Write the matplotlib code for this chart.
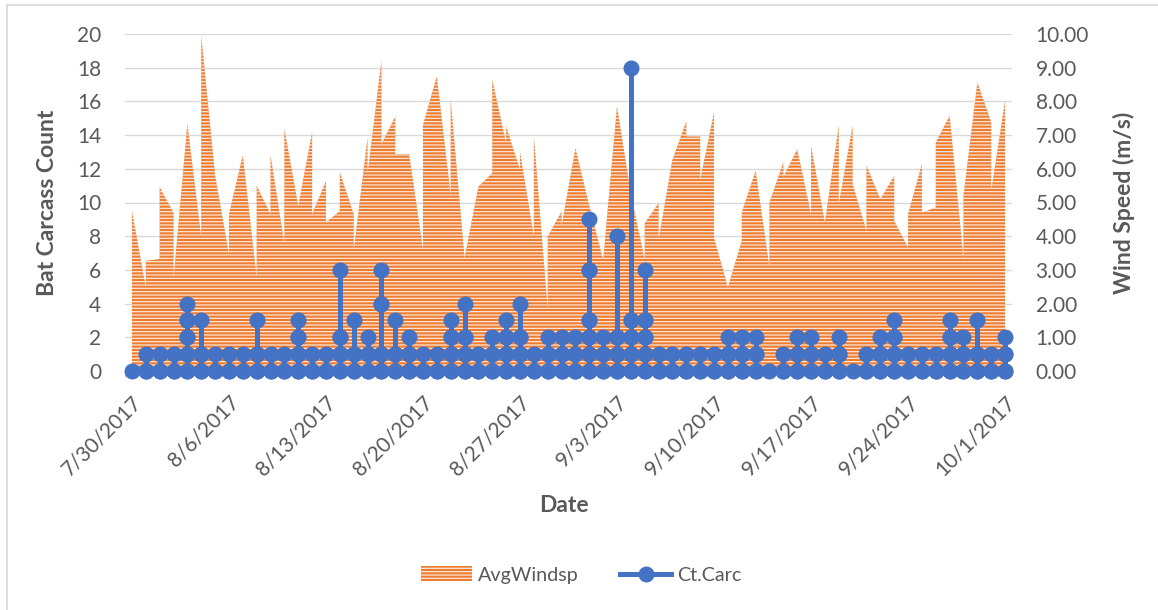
import matplotlib
matplotlib.use("Agg")
import matplotlib.pyplot as plt
from matplotlib.lines import Line2D

# ---- data (day 0 = 7/30/2017) ----
wind_day = [0, 1, 1, 2, 2, 3, 3, 4, 5, 5, 6, 7, 7, 8, 9, 9, 10, 10, 11, 11, 12,
            13, 13, 14, 14, 15, 15, 16, 16, 17, 17, 18, 18, 19, 19, 20, 21, 21,
            22, 23, 23, 24, 25, 26, 26, 27, 27, 28, 28, 29, 29, 30, 30, 31, 31,
            32, 33, 34, 35, 36, 37, 37, 38, 38, 39, 40, 40, 41, 41, 42, 42, 43,
            44, 44, 45, 46, 46, 47, 47, 48, 49, 49, 50, 51, 51, 52, 52, 53, 53,
            54, 55, 55, 56, 56, 57, 57, 58, 58, 59, 60, 60, 61, 62, 62, 63]
wind_ms = [4.75, 2.48, 3.27, 3.32, 5.45, 4.70, 2.72, 7.33, 3.96, 9.95, 5.80,
           3.47, 4.65, 6.40, 2.77, 5.50, 4.65, 6.40, 3.76, 7.18, 4.90,
           7.08, 4.65, 5.64, 4.40, 4.75, 5.90, 4.65, 3.56, 6.93, 5.85, 9.20, 6.73,
           7.55, 6.44, 6.44, 3.60, 7.30,
           8.74, 5.20, 8.05, 3.35, 5.47, 5.87, 8.64, 6.76, 7.26, 5.97, 6.50,
           3.99, 6.96, 1.81, 3.99, 4.73, 4.30,
           6.61, 4.90, 3.30, 7.85, 5.25, 3.30, 4.39, 4.98, 3.89, 6.27, 7.41, 6.96,
           6.96, 5.67, 7.67, 3.95, 2.48,
           3.85, 4.70, 5.94, 3.07, 5.00, 6.19, 5.75, 6.58, 4.65, 6.68, 4.40,
           7.28, 4.95, 7.28, 5.55, 4.16, 6.09,
           5.10, 5.79, 4.45, 3.66, 4.65, 6.14, 4.70, 4.85, 6.78, 7.57, 3.32, 5.20,
           8.56, 7.38, 5.35, 8.02]

# carcass counts recorded on each day (one list per day)
carc_by_day = [
    [0], [0, 1], [0, 1], [0, 1], [0, 1, 2, 3, 4], [0, 1, 3], [0, 1], [0, 1],
    [0, 1], [0, 1, 3], [0, 1], [0, 1], [0, 1, 2, 3], [0, 1], [0, 1],
    [0, 1, 2, 6], [0, 1, 3], [0, 1, 2], [0, 1, 4, 6], [0, 1, 3], [0, 1, 2],
    [0, 1], [0, 1], [0, 1, 2, 3], [0, 1, 2, 4], [0, 1], [0, 1, 2],
    [0, 1, 2, 3], [0, 1, 2, 4], [0, 1], [0, 1, 2], [0, 1, 2], [0, 1, 2],
    [0, 1, 2, 3, 6, 9], [0, 1, 2], [0, 1, 2, 8], [0, 1, 2, 3, 18],
    [0, 1, 2, 3, 6], [0, 1], [0, 1], [0, 1], [0, 1], [0, 1], [0, 1, 2],
    [0, 1, 2], [0, 1, 2], [0], [0, 1], [0, 1, 2], [0, 1, 2], [0, 1],
    [0, 1, 2], [0], [0, 1], [0, 1, 2], [0, 1, 2, 3], [0, 1], [0, 1], [0, 1],
    [0, 1, 2, 3], [0, 1, 2], [0, 1, 3], [0, 1], [0, 1, 2],
]

tick_days = [0, 7, 14, 21, 28, 35, 42, 49, 56, 63]
tick_labels = ['7/30/2017', '8/6/2017', '8/13/2017', '8/20/2017', '8/27/2017',
               '9/3/2017', '9/10/2017', '9/17/2017', '9/24/2017', '10/1/2017']

# ---- style ----
plt.rcParams['font.family'] = ['Lato', 'DejaVu Sans']
plt.rcParams['hatch.linewidth'] = 0.9
txt = '#595959'
orange = '#ED7D31'
blue = '#4472C4'
fs = 15          # tick labels
fs_title = 16.5  # axis titles

W, H = 1158, 610
fig = plt.figure(figsize=(W / 100, H / 100), dpi=100)
L, R, T, B = 125, 1012, 34, 371
ax2 = fig.add_axes([L / W, 1 - B / H, (R - L) / W, (B - T) / H])
ax = ax2.twinx()
ax.yaxis.tick_left()
ax.yaxis.set_label_position('left')
ax2.yaxis.tick_right()
ax2.yaxis.set_label_position('right')
ax.set_zorder(ax2.get_zorder() + 1)
ax.patch.set_visible(False)

# wind speed area (right axis)
area = ax2.fill_between(wind_day, wind_ms, 0, facecolor=orange,
                        edgecolor='#FCE6D8', hatch='-----', linewidth=0,
                        label='AvgWindsp')
ax2.set_ylim(0, 10)
ax2.set_yticks(range(0, 11))
ax2.set_yticklabels([f'{v:.2f}' for v in range(0, 11)])
ax2.grid(axis='y', color='#D9D9D9', lw=1.0)
ax2.set_axisbelow(True)

# carcass counts (left axis): up the stem and back down each day
px, py = [], []
for d, vals in enumerate(carc_by_day):
    seq = sorted(vals)
    seq = seq + seq[-2::-1]
    px += [d] * len(seq)
    py += seq
ax.plot(px, py, color=blue, lw=3.6, marker='o', ms=10.5, mfc=blue,
        mec=blue, clip_on=False, solid_joinstyle='round', zorder=3)
ax.set_ylim(0, 20)
ax.set_yticks(range(0, 21, 2))

ax.set_xlim(-0.5, 63.5)
ax2.set_xlim(-0.5, 63.5)
ax2.set_xticks(tick_days)
ax2.set_xticklabels(tick_labels, rotation=45, ha='right',
                    rotation_mode='anchor')
ax2.set_xticks([d - 0.5 for d in tick_days], minor=True)
ax2.tick_params(axis='x', which='major', length=0, pad=15, labelsize=fs,
                labelcolor=txt)
ax2.tick_params(axis='x', which='minor', length=4, color='#BFBFBF')
ax.tick_params(axis='x', bottom=False, labelbottom=False)
ax.tick_params(axis='y', length=0, pad=17, labelsize=fs, labelcolor=txt)
ax2.tick_params(axis='y', length=0, pad=17, labelsize=fs, labelcolor=txt)

for a in (ax, ax2):
    for s in a.spines.values():
        s.set_visible(False)
ax2.spines['bottom'].set_visible(True)
ax2.spines['bottom'].set_color('#BFBFBF')

ax.set_ylabel('Bat Carcass Count', fontsize=fs_title, fontweight='bold',
              color=txt)
ax.yaxis.set_label_coords((58 - L) / (R - L), 0.5)
ax2.set_ylabel('Wind Speed (m/s)', fontsize=fs_title, fontweight='bold',
               color=txt)
ax2.yaxis.set_label_coords((1113 - L) / (R - L), 0.5)

fig.text(564 / W, 1 - 505 / H, 'Date', ha='center', va='center',
         fontsize=fs_title, fontweight='bold', color=txt)

h_line = Line2D([], [], color=blue, lw=3.6, marker='o', ms=10.5)
leg = fig.legend([area, h_line], ['AvgWindsp', 'Ct.Carc'], ncol=2,
                 loc='center', bbox_to_anchor=(581 / W, 1 - 575 / H),
                 frameon=False, fontsize=14.2, handlelength=2.6,
                 handleheight=0.8, columnspacing=2.1, handletextpad=0.3,
                 numpoints=1)
for t in leg.get_texts():
    t.set_color(txt)

# chart border (top and left edges visible in the crop)
fig.add_artist(Line2D([7 / W, 7 / W], [0, 1 - 5 / H], color='#D9D9D9', lw=1.2))
fig.add_artist(Line2D([7 / W, 1], [1 - 5 / H, 1 - 5 / H], color='#D9D9D9', lw=1.2))

fig.savefig('out.png', dpi=100)
